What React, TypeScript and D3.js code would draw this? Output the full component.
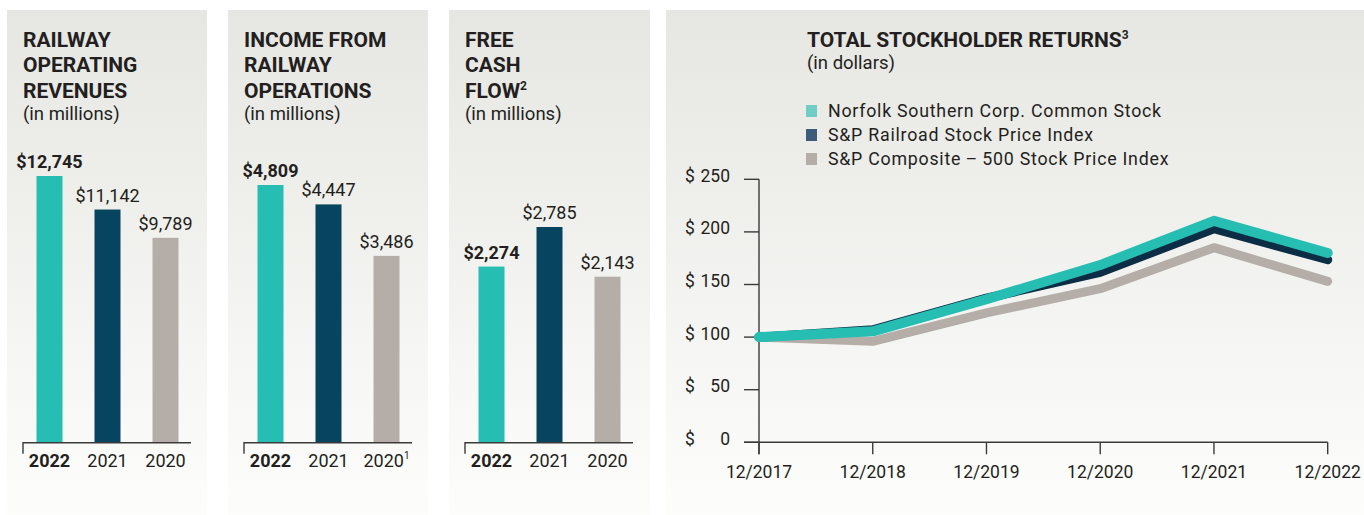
import React from 'react';
import * as d3 from 'd3';

// ---------- DATA ----------
const barYears = ['2022', '2021', '2020'];
const railwayRevenues = [12745, 11142, 9789];
const incomeFromOps = [4809, 4447, 3486];
const freeCashFlow = [2274, 2785, 2143];
const barColors = ['#26bdb2', '#07445f', '#b5ada7'];

const tsrDates = ['12/2017', '12/2018', '12/2019', '12/2020', '12/2021', '12/2022'];
const nscReturns = [100, 105.5, 136, 168.5, 210.5, 180];
const railroadReturns = [100, 107, 137, 161.5, 203, 173.5];
const sp500Returns = [100, 96, 123, 146, 185, 153];
const tsrTicks = [0, 50, 100, 150, 200, 250];
const seriesNames = [
  'Norfolk Southern Corp. Common Stock',
  'S&P Railroad Stock Price Index',
  'S&P Composite\u2009–\u2009500 Stock Price Index',
];
const legendColors = ['#6fcdc5', '#3e5d7a', '#b4ada8'];
const lineColors = ['#26bdb2', '#0b2d45', '#b5ada7'];

const FONT = 'Roboto, sans-serif';
const INK = '#231f20';
const AXIS = '#3a3a3a';

const fmt = (v: number) => '$' + d3.format(',')(v);

type BarPanelProps = {
  left: number;
  width: number;
  title: string[];
  titleSup?: string;
  yearSup?: string;
  values: number[];
  maxTop: number;
};

const BASE = 442.7;

function BarPanel({ left, width, title, titleSup, yearSup, values, maxTop }: BarPanelProps) {
  const x0 = left + 16;
  const x = d3.scalePoint<string>().domain(barYears).range([x0 + 26.5, x0 + 142.5]);
  const y = d3.scaleLinear().domain([0, d3.max(values) as number]).range([BASE, maxTop]);
  const bw = 26;
  return (
    <g>
      <rect x={left} y={10} width={width} height={505} fill="url(#panelGrad)" />
      {title.map((t, i) => (
        <text key={i} x={x0} y={47 + i * 25.3} fontFamily={FONT} fontWeight={700} fontSize={21} fill={INK}>
          {t}
          {i === title.length - 1 && titleSup ? (
            <tspan fontSize={12} dy={-8}>{titleSup}</tspan>
          ) : null}
        </text>
      ))}
      <text x={x0} y={120} fontFamily={FONT} fontSize={18.5} fill={INK}>(in millions)</text>
      {values.map((v, i) => (
        <g key={i}>
          <rect x={(x(barYears[i]) as number) - bw / 2} y={y(v)} width={bw} height={BASE - y(v)} fill={barColors[i]} />
          <text
            x={x(barYears[i])}
            y={y(v) - 8}
            textAnchor="middle"
            fontFamily={FONT}
            fontWeight={i === 0 ? 700 : 400}
            fontSize={18}
            fill={INK}
          >
            {fmt(v)}
          </text>
          <text
            x={x(barYears[i])}
            y={467}
            textAnchor="middle"
            fontFamily={FONT}
            fontWeight={i === 0 ? 700 : 400}
            fontSize={18}
            fill={INK}
          >
            {barYears[i]}
            {i === 2 && yearSup ? <tspan fontSize={10} dy={-8}>{yearSup}</tspan> : null}
          </text>
        </g>
      ))}
      <path d={`M${x0},${BASE + 11}V${BASE}H${x0 + 168}`} fill="none" stroke={AXIS} strokeWidth={1.4} />
    </g>
  );
}

function TsrPanel() {
  const left = 666;
  const x = d3.scalePoint<string>().domain(tsrDates).range([759, 1327.7]);
  const y = d3.scaleLinear().domain([0, 250]).range([442.3, 179.3]);
  const series = [sp500Returns, railroadReturns, nscReturns];
  const seriesColors = [lineColors[2], lineColors[1], lineColors[0]];
  const widths = [9, 9, 10];
  const line = d3
    .line<number>()
    .x((_, i) => x(tsrDates[i]) as number)
    .y((d) => y(d));
  const axisX = x(tsrDates[0]) as number;
  return (
    <g>
      <rect x={left} y={10} width={1364 - left} height={505} fill="url(#panelGrad)" />
      <text x={807} y={47} fontFamily={FONT} fontWeight={700} fontSize={21} fill={INK}>
        TOTAL STOCKHOLDER RETURNS<tspan fontSize={12} dy={-8}>3</tspan>
      </text>
      <text x={807} y={69} fontFamily={FONT} fontSize={18.5} fill={INK}>(in dollars)</text>
      {seriesNames.map((n, i) => (
        <g key={n}>
          <rect x={806} y={105 + i * 24} width={11} height={12} fill={legendColors[i]} />
          <text x={828} y={117 + i * 24} fontFamily={FONT} fontSize={17.8} letterSpacing={0.75} fill={INK}>
            {n}
          </text>
        </g>
      ))}
      {/* y axis */}
      {tsrTicks.map((t) => (
        <g key={t}>
          <line x1={axisX - 15} x2={axisX} y1={y(t)} y2={y(t)} stroke={AXIS} strokeWidth={1.4} />
          <text x={685} y={y(t) + 2.5} fontFamily={FONT} fontSize={17.5} fill={INK}>$</text>
          <text x={730} y={y(t) + 2.5} textAnchor="end" fontFamily={FONT} fontSize={17.5} fill={INK}>{t}</text>
        </g>
      ))}
      <line x1={axisX} x2={axisX} y1={y(250)} y2={y(0) + 12} stroke={AXIS} strokeWidth={1.4} />
      {/* x axis */}
      <line x1={axisX - 15} x2={x(tsrDates[tsrDates.length - 1])} y1={y(0)} y2={y(0)} stroke={AXIS} strokeWidth={1.4} />
      {tsrDates.map((d) => (
        <g key={d}>
          <line x1={x(d)} x2={x(d)} y1={y(0)} y2={y(0) + 12} stroke={AXIS} strokeWidth={1.4} />
          <text x={x(d)} y={477.5} textAnchor="middle" fontFamily={FONT} fontSize={17.5} fill={INK}>{d}</text>
        </g>
      ))}
      {series.map((s, i) => (
        <path
          key={i}
          d={line(s) as string}
          fill="none"
          stroke={seriesColors[i]}
          strokeWidth={widths[i]}
          strokeLinecap="round"
          strokeLinejoin="round"
        />
      ))}
    </g>
  );
}

export default function App() {
  return (
    <svg
      width={1364}
      height={515}
      style={{ position: 'absolute', left: 0, top: 0, background: '#ffffff' }}
    >
      <defs>
        <linearGradient id="panelGrad" x1="0" y1="0" x2="0" y2="1">
          <stop offset="0" stopColor="#e6e6e2" />
          <stop offset="1" stopColor="#fdfdfc" />
        </linearGradient>
      </defs>
      <BarPanel
        left={7}
        width={200}
        title={['RAILWAY', 'OPERATING', 'REVENUES']}
        values={railwayRevenues}
        maxTop={176}
      />
      <BarPanel
        left={228}
        width={200}
        title={['INCOME FROM', 'RAILWAY', 'OPERATIONS']}
        yearSup="1"
        values={incomeFromOps}
        maxTop={185}
      />
      <BarPanel
        left={449}
        width={201}
        title={['FREE', 'CASH', 'FLOW']}
        titleSup="2"
        values={freeCashFlow}
        maxTop={227}
      />
      <TsrPanel />
    </svg>
  );
}
